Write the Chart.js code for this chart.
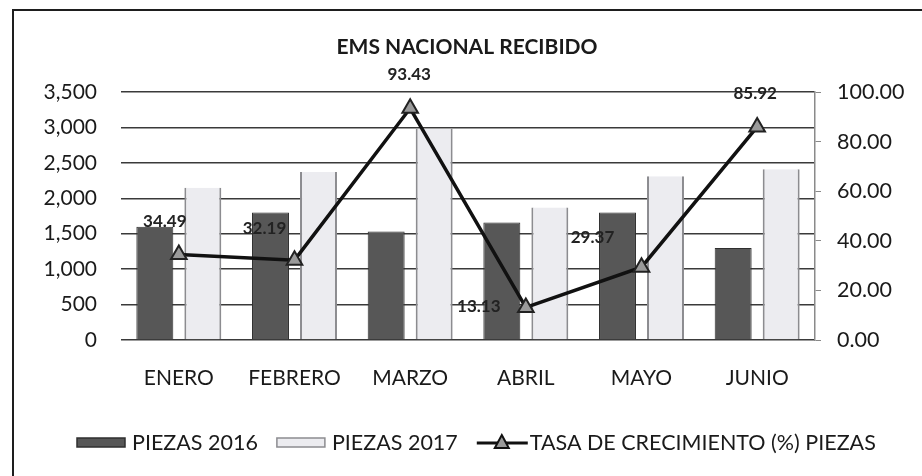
<!DOCTYPE html>
<html>
<head>
<meta charset="utf-8">
<script src="https://cdn.jsdelivr.net/npm/chart.js@4.4.1/dist/chart.umd.min.js"></script>
<style>
  html, body { margin: 0; padding: 0; background: #fff; }
  #wrap { position: relative; width: 922px; height: 476px; }
  #frame { position: absolute; left: 12px; top: 9px; right: -4px; bottom: -4px;
           border-left: 2px solid #1e1e1e; border-top: 2px solid #1e1e1e; }
  canvas { position: absolute; left: 0; top: 0; }
</style>
</head>
<body>
<div id="wrap">
  <div id="frame"></div>
  <canvas id="c" width="922" height="476"></canvas>
</div>
<script>
var months = ['ENERO', 'FEBRERO', 'MARZO', 'ABRIL', 'MAYO', 'JUNIO'];
var piezas2016 = [1600, 1800, 1530, 1660, 1800, 1300];
var piezas2017 = [2150, 2370, 2980, 1870, 2310, 2410];
var tasaCrecimiento = [34.49, 32.19, 93.43, 13.13, 29.37, 85.92];
var leftTicks = [0, 500, 1000, 1500, 2000, 2500, 3000, 3500];
var rightTicks = [0, 20, 40, 60, 80, 100];

// where each value label sits relative to its point (dx, dy)
var labelOffsets = [[-14, -33], [-30, -32], [-1, -34], [-47, -1], [-49, -30], [-2, -33]];

var FONT = 'Lato, "Open Sans", sans-serif';
var numFmt = new Intl.NumberFormat('en-US');

var titlePlugin = {
  id: 'titleText',
  afterDraw: function (chart) {
    var ctx = chart.ctx;
    ctx.save();
    ctx.font = 'bold 21px ' + FONT;
    ctx.fillStyle = '#1a1a1a';
    ctx.textAlign = 'center';
    ctx.textBaseline = 'middle';
    ctx.fillText('EMS NACIONAL RECIBIDO', 467, 47);
    ctx.restore();
  }
};

var valueLabels = {
  id: 'valueLabels',
  afterDatasetsDraw: function (chart) {
    var meta = chart.getDatasetMeta(2);
    var ctx = chart.ctx;
    ctx.save();
    ctx.font = 'bold 17px ' + FONT;
    ctx.fillStyle = '#222';
    ctx.textAlign = 'center';
    ctx.textBaseline = 'middle';
    meta.data.forEach(function (pt, i) {
      var off = labelOffsets[i];
      ctx.fillText(tasaCrecimiento[i].toFixed(2), pt.x + off[0], pt.y + off[1]);
    });
    ctx.restore();
  }
};

var legendPlugin = {
  id: 'customLegend',
  afterDraw: function (chart) {
    var ctx = chart.ctx;
    var y = 443;
    var x = 77;
    ctx.save();
    ctx.font = '21.5px ' + FONT;
    ctx.textBaseline = 'middle';
    chart.data.datasets.forEach(function (ds) {
      var textX;
      if (ds.type === 'line') {
        ctx.strokeStyle = '#111';
        ctx.lineWidth = 3;
        ctx.beginPath();
        ctx.moveTo(x, y);
        ctx.lineTo(x + 51, y);
        ctx.stroke();
        ctx.beginPath();
        ctx.moveTo(x + 25, y - 8);
        ctx.lineTo(x + 32, y + 5);
        ctx.lineTo(x + 18, y + 5);
        ctx.closePath();
        ctx.fillStyle = '#9a9a9a';
        ctx.fill();
        ctx.lineWidth = 2;
        ctx.stroke();
        textX = x + 53;
      } else {
        ctx.fillStyle = ds.backgroundColor;
        ctx.fillRect(x, y - 5, 48, 9);
        ctx.strokeStyle = ds.borderColor;
        ctx.lineWidth = 1.5;
        ctx.strokeRect(x, y - 5, 48, 9);
        textX = x + 55;
      }
      ctx.fillStyle = '#1a1a1a';
      ctx.fillText(ds.label, textX, y);
      x = textX + ctx.measureText(ds.label).width + 19;
    });
    ctx.restore();
  }
};

new Chart(document.getElementById('c').getContext('2d'), {
  data: {
    labels: months,
    datasets: [{
      type: 'bar',
      label: 'PIEZAS 2016',
      data: piezas2016,
      yAxisID: 'y',
      backgroundColor: '#575757',
      borderColor: '#2f2f2f',
      borderWidth: 1,
      barPercentage: 0.77,
      categoryPercentage: 0.83,
      order: 2
    }, {
      type: 'bar',
      label: 'PIEZAS 2017',
      data: piezas2017,
      yAxisID: 'y',
      backgroundColor: '#ececf0',
      borderColor: '#8c8c90',
      borderWidth: { left: 2, right: 2, top: 0, bottom: 0 },
      barPercentage: 0.77,
      categoryPercentage: 0.83,
      order: 2
    }, {
      type: 'line',
      label: 'TASA DE CRECIMIENTO (%) PIEZAS',
      data: tasaCrecimiento,
      yAxisID: 'y1',
      borderColor: '#111',
      borderWidth: 3.5,
      tension: 0,
      pointStyle: 'triangle',
      pointRadius: 9,
      pointBackgroundColor: '#9a9a9a',
      pointBorderColor: '#222',
      pointBorderWidth: 2,
      order: 1
    }]
  },
  options: {
    responsive: false,
    animation: false,
    layout: { padding: { top: 92, bottom: 76, left: 0, right: 0 } },
    plugins: {
      legend: { display: false },
      title: { display: false },
      tooltip: { enabled: false }
    },
    scales: {
      x: {
        grid: { display: false, drawTicks: false },
        border: { display: false },
        ticks: { color: '#1a1a1a', font: { family: FONT, size: 21 }, padding: 26 },
        afterFit: function (s) { s.height = 60; }
      },
      y: {
        position: 'left',
        min: 0,
        max: 3500,
        afterBuildTicks: function (s) { s.ticks = leftTicks.map(function (v) { return { value: v }; }); },
        grid: { color: '#3a3a3a', lineWidth: 1.5, drawTicks: false },
        border: { display: false },
        ticks: {
          color: '#1a1a1a',
          font: { family: FONT, size: 21 },
          padding: 24,
          callback: function (v) { return numFmt.format(v); }
        },
        afterFit: function (s) { s.width = 121; }
      },
      y1: {
        position: 'right',
        min: 0,
        max: 100,
        afterBuildTicks: function (s) { s.ticks = rightTicks.map(function (v) { return { value: v }; }); },
        grid: { drawOnChartArea: false, drawTicks: true, tickLength: 6, color: '#888' },
        border: { display: true, color: '#8a8a8a', width: 1.5 },
        ticks: {
          color: '#1a1a1a',
          font: { family: FONT, size: 21.5 },
          padding: 16,
          callback: function (v) { return v.toFixed(2); }
        },
        afterFit: function (s) { s.width = 107; }
      }
    }
  },
  plugins: [titlePlugin, valueLabels, legendPlugin]
});
</script>
</body>
</html>
